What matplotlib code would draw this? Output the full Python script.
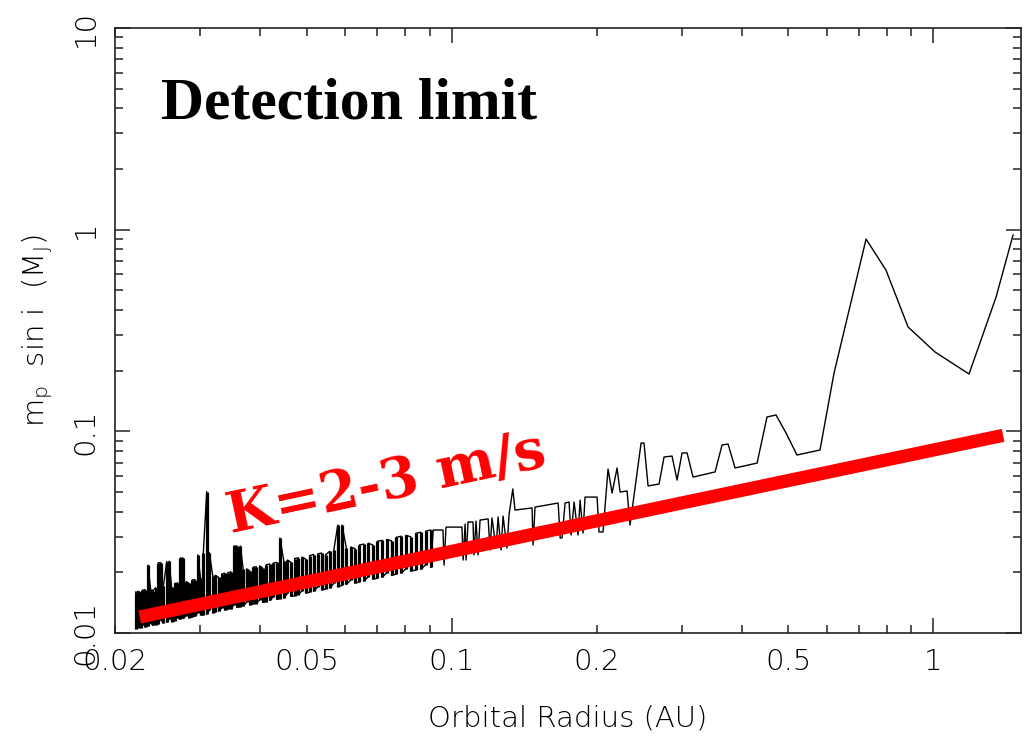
import matplotlib.pyplot as plt

plt.rcParams['mathtext.default'] = 'regular'
plt.rcParams['font.family'] = 'DejaVu Sans'
plt.rcParams['path.simplify'] = False

# dense part of the detection limit (short periods): top and bottom of each stroke
dense_x = [0.0221, 0.0223, 0.0226, 0.0228, 0.0231, 0.0234, 0.0237, 0.0240, 0.0243, 0.0246,
           0.0249, 0.0252, 0.0256, 0.0259, 0.0262, 0.0266, 0.0270, 0.0273, 0.0277, 0.0281,
           0.0285, 0.0289, 0.0293, 0.0297, 0.0301, 0.0305, 0.0310, 0.0314, 0.0319, 0.0323,
           0.0328, 0.0333, 0.0338, 0.0343, 0.0348, 0.0353, 0.0358, 0.0364, 0.0369, 0.0375,
           0.0381, 0.0387, 0.0393, 0.0399, 0.0405, 0.0412, 0.0419, 0.0426, 0.0433, 0.0440,
           0.0448, 0.0456, 0.0464, 0.0472, 0.0480, 0.0489, 0.0498, 0.0507, 0.0517, 0.0527,
           0.0537, 0.0547, 0.0558, 0.0569, 0.0580, 0.0592, 0.0604, 0.0617, 0.0630, 0.0643,
           0.0657, 0.0671, 0.0686, 0.0701, 0.0717, 0.0733, 0.0750, 0.0767, 0.0785, 0.0803,
           0.0822, 0.0842, 0.0862, 0.0883, 0.0905]
dense_hi = [0.0160, 0.0161, 0.0158, 0.0163, 0.0164, 0.0217, 0.0166, 0.0162, 0.0168, 0.0223,
            0.0223, 0.0171, 0.0226, 0.0227, 0.0170, 0.0176, 0.0177, 0.0235, 0.0235, 0.0180,
            0.0176, 0.0183, 0.0184, 0.0244, 0.0187, 0.0250, 0.0502, 0.0250, 0.0192, 0.0193,
            0.0189, 0.0196, 0.0198, 0.0199, 0.0201, 0.0270, 0.0270, 0.0270, 0.0207, 0.0208,
            0.0203, 0.0212, 0.0213, 0.0215, 0.0210, 0.0218, 0.0220, 0.0222, 0.0224, 0.0296,
            0.0228, 0.0230, 0.0224, 0.0234, 0.0236, 0.0238, 0.0232, 0.0242, 0.0245, 0.0247,
            0.0249, 0.0244, 0.0254, 0.0257, 0.0343, 0.0343, 0.0265, 0.0267, 0.0262, 0.0273,
            0.0276, 0.0279, 0.0273, 0.0285, 0.0288, 0.0291, 0.0286, 0.0298, 0.0302, 0.0305,
            0.0300, 0.0312, 0.0316, 0.0320, 0.0324]
dense_lo = [0.0105, 0.0106, 0.0106, 0.0109, 0.0107, 0.0108, 0.0112, 0.0109, 0.0110, 0.0111,
            0.0116, 0.0112, 0.0113, 0.0117, 0.0114, 0.0115, 0.0119, 0.0117, 0.0118, 0.0122,
            0.0119, 0.0120, 0.0121, 0.0126, 0.0123, 0.0123, 0.0124, 0.0130, 0.0126, 0.0127,
            0.0128, 0.0133, 0.0130, 0.0131, 0.0132, 0.0138, 0.0134, 0.0135, 0.0136, 0.0142,
            0.0138, 0.0139, 0.0140, 0.0146, 0.0142, 0.0143, 0.0145, 0.0151, 0.0147, 0.0148,
            0.0149, 0.0157, 0.0152, 0.0153, 0.0155, 0.0162, 0.0158, 0.0159, 0.0161, 0.0169,
            0.0164, 0.0165, 0.0167, 0.0176, 0.0170, 0.0172, 0.0174, 0.0183, 0.0177, 0.0179,
            0.0181, 0.0190, 0.0185, 0.0187, 0.0189, 0.0199, 0.0193, 0.0196, 0.0198, 0.0208,
            0.0203, 0.0205, 0.0207, 0.0218, 0.0212]

# sparse part (longer periods)
sparse_x = [0.0915, 0.0959, 0.0964, 0.0973, 0.1050, 0.1056, 0.1066, 0.1071, 0.1081, 0.1107,
            0.1112, 0.1123, 0.1134, 0.1145, 0.1190, 0.1201, 0.1212, 0.1236, 0.1248, 0.1266,
            0.1278, 0.1302, 0.1315, 0.1339, 0.1353, 0.1468, 0.1475, 0.1489, 0.1663, 0.1679,
            0.1694, 0.1719, 0.1752, 0.1769, 0.1795, 0.1829, 0.1847, 0.1873, 0.1891, 0.2003,
            0.2022, 0.2061, 0.2111, 0.2152, 0.2204, 0.2236, 0.2312, 0.2345, 0.2472, 0.2507,
            0.2556, 0.2694, 0.2759, 0.2866, 0.2936, 0.3007, 0.3080, 0.3169, 0.3521, 0.3640,
            0.3747, 0.3874, 0.4304, 0.4513, 0.4712, 0.4943, 0.5208, 0.5814, 0.6218, 0.7247,
            0.7970, 0.8859, 1.0077, 1.1855, 1.349, 1.463]
sparse_y = [0.0324, 0.0324, 0.0217, 0.0335, 0.0335, 0.0230, 0.0347, 0.0230, 0.0355, 0.0355,
            0.0244, 0.0359, 0.0244, 0.0363, 0.0368, 0.0258, 0.0372, 0.0264, 0.0376, 0.0258,
            0.0380, 0.0264, 0.0385, 0.0518, 0.0407, 0.0417, 0.0273, 0.0421, 0.0441, 0.0296,
            0.0296, 0.0441, 0.0446, 0.0306, 0.0446, 0.0306, 0.0456, 0.0313, 0.0472, 0.0472,
            0.0317, 0.0317, 0.0650, 0.0494, 0.0658, 0.0500, 0.0506, 0.0343, 0.0875, 0.0875,
            0.0536, 0.0548, 0.0746, 0.0754, 0.0573, 0.0781, 0.0781, 0.0593, 0.0629, 0.0855,
            0.0865, 0.0658, 0.0696, 0.1178, 0.1205, 0.0981, 0.0763, 0.0808, 0.1946, 0.898,
            0.630, 0.3289, 0.2473, 0.1924, 0.4632, 0.940]

# K = 2-3 m/s line
k_x = [0.0225, 1.395]
k_y = [0.0120, 0.0955]

x_major = [0.1, 1]
x_minor = [0.02, 0.03, 0.04, 0.05, 0.06, 0.07, 0.08, 0.09, 0.2, 0.3, 0.4, 0.5, 0.6, 0.7, 0.8, 0.9]
x_minor_labels = ['0.02', '', '', '0.05', '', '', '', '', '0.2', '', '', '0.5', '', '', '', '']
y_major = [0.01, 0.1, 1, 10]
y_major_labels = ['0.01', '0.1', '1', '10']
y_minor = [0.02, 0.03, 0.04, 0.05, 0.06, 0.07, 0.08, 0.09, 0.2, 0.3, 0.4, 0.5, 0.6, 0.7, 0.8, 0.9,
           2, 3, 4, 5, 6, 7, 8, 9]

fig = plt.figure(figsize=(10.30, 7.44), dpi=100)
ax = fig.add_axes([0.1117, 0.1492, 0.8796, 0.8132])

# build the zig-zag for the dense part
px, py = [], []
for i, (x, h, l) in enumerate(zip(dense_x, dense_hi, dense_lo)):
    px += [x, x]
    py += [h, l] if i % 2 == 0 else [l, h]
ax.plot(px, py, color='black', lw=1.0)
ax.vlines(dense_x, dense_lo, dense_hi, color='black', lw=2.3)
ax.plot([dense_x[-1]] + sparse_x, [dense_lo[-1]] + sparse_y, color='black', lw=1.0)

ax.plot(k_x, k_y, color='red', lw=9.5, solid_capstyle='butt')

ax.set_xscale('log')
ax.set_yscale('log')
ax.set_xlim(0.02, 1.52)
ax.set_ylim(0.01, 10)

fc = '#222222'
tc = '#000000'
ax.set_xticks(x_major, labels=['0.1', '1'])
ax.set_xticks(x_minor, labels=x_minor_labels, minor=True)
ax.set_yticks(y_major)
ax.set_yticklabels(y_major_labels, rotation=90, va='center')
ax.set_yticks(y_minor, labels=[''] * len(y_minor), minor=True)

ax.tick_params(which='both', direction='in', top=True, right=True, color=fc,
               labelcolor=tc, labelsize=21, width=1.1, pad=11)
ax.tick_params(which='major', length=11)
ax.tick_params(which='minor', length=6)
for s in ax.spines.values():
    s.set_color(fc)
    s.set_linewidth(1.2)
for lab in ax.get_xticklabels(which='both') + ax.get_yticklabels():
    lab.set_fontweight(200)

ax.set_xlabel('Orbital Radius (AU)', fontsize=21, color=tc, fontweight=200)
ax.xaxis.set_label_coords(0.5, -0.118)
ax.set_ylabel('m$_p$  sin i  (M$_J$)', fontsize=21, color=tc, fontweight=200)
ax.yaxis.set_label_coords(-0.066, 0.5)

ax.text(0.0508, 0.851, 'Detection limit', transform=ax.transAxes,
        fontfamily='Liberation Serif', fontweight='bold', fontsize=43,
        ha='left', va='baseline')
ax.text(0.0348, 0.0313, 'K=2-3 m/s', color='red', rotation=12, rotation_mode='anchor',
        fontfamily='DejaVu Serif', fontweight='bold', fontsize=40,
        ha='left', va='baseline')

fig.savefig('out.png', dpi=100)
